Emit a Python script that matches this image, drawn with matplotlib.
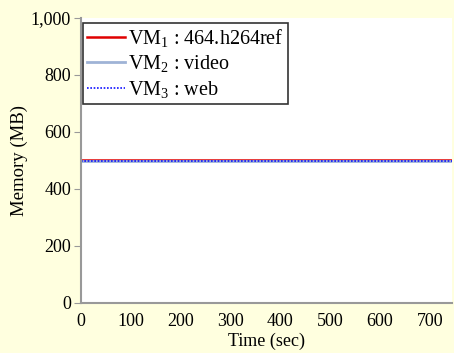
import numpy as np
import matplotlib.pyplot as plt

plt.rcParams['font.family'] = ['Liberation Serif', 'DejaVu Serif']
plt.rcParams['mathtext.fontset'] = 'custom'
plt.rcParams['mathtext.rm'] = 'Liberation Serif'
plt.rcParams['mathtext.it'] = 'Liberation Serif:italic'

# tiempo (s) y memoria (MB) de cada VM
tiempo = [0, 100, 200, 300, 400, 500, 600, 700, 745]
mem_vm1 = [502, 502, 502, 502, 502, 502, 502, 502, 502]
mem_vm2 = [497, 497, 497, 497, 497, 497, 497, 497, 497]
mem_vm3 = [498, 498, 498, 498, 498, 498, 498, 498, 498]
etiquetas = ['VM$_1$ : 464.h264ref', 'VM$_2$ : video', 'VM$_3$ : web']

fig = plt.figure(figsize=(4.54, 3.53), dpi=100, facecolor='#ffffdf')
ax = fig.add_axes([0.178, 0.142, 0.818, 0.807])
ax.set_facecolor('white')

ax.plot(tiempo, mem_vm1, color='#e00000', lw=1.8, label=etiquetas[0])
ax.plot(tiempo, mem_vm2, color='#9fb3d6', lw=2.0, label=etiquetas[1])
ax.plot(tiempo, mem_vm3, color='#1010ff', lw=1.2, ls=(0, (1, 1)), label=etiquetas[2])

ax.set_xlim(0, 745)
ax.set_ylim(0, 1000)
ax.set_xticks(range(0, 701, 100))
ax.set_yticks(range(0, 1001, 200))
ax.set_yticklabels(['0', '200', '400', '600', '800', '1,000'])
ax.set_xlabel('Time (sec)', fontsize=13, labelpad=2)
ax.set_ylabel('Memory (MB)', fontsize=13.5, labelpad=2)

for s in ['top', 'right']:
    ax.spines[s].set_visible(False)
for s in ['left', 'bottom']:
    ax.spines[s].set_color('#999999')
    ax.spines[s].set_linewidth(1.5)
ax.tick_params(axis='y', direction='out', length=5, color='#999999', labelsize=13, pad=2)
ax.tick_params(axis='x', length=0, labelsize=13, pad=7)

leg = ax.legend(loc='upper left', bbox_to_anchor=(83 / 454, 1 - 23 / 353),
                bbox_transform=fig.transFigure, fontsize=14.5,
                frameon=True, fancybox=False, handlelength=1.9, handletextpad=0.15,
                labelspacing=0.22, borderpad=0.2, borderaxespad=0)
leg.get_frame().set_edgecolor('black')
leg.get_frame().set_linewidth(1.2)

plt.savefig('out.png', dpi=100, facecolor=fig.get_facecolor())
plt.close()
